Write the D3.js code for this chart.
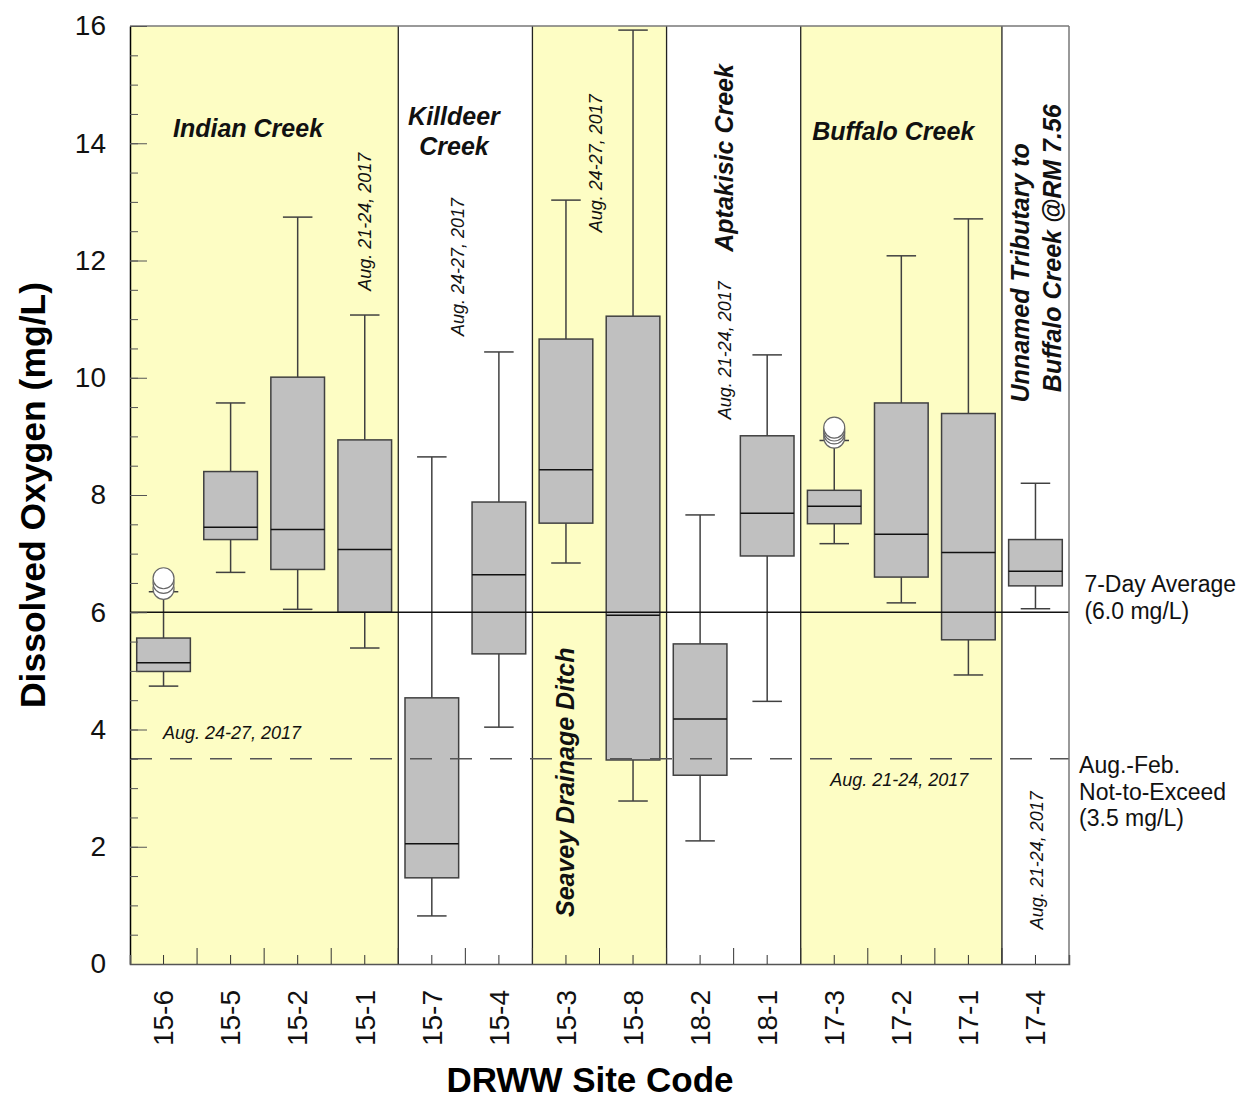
<!DOCTYPE html>
<html>
<head>
<meta charset="utf-8">
<script src="https://cdn.jsdelivr.net/npm/d3@7"></script>
<style>
  body { margin: 0; background: #fff; }
  text { font-family: Arial, "Liberation Sans", sans-serif; }
</style>
</head>
<body>
<div id="graphic"></div>
<script>
// site codes along the x axis
const sites = ["15-6","15-5","15-2","15-1","15-7","15-4","15-3","15-8","18-2","18-1","17-3","17-2","17-1","17-4"];

// box statistics (mg/L), one per site
const whiskerLow  = [4.74, 6.68, 6.05, 5.39, 0.82, 4.04, 6.84, 2.78, 2.10, 4.48, 7.17, 6.16, 4.93, 6.06];
const q1          = [4.99, 7.24, 6.73, 6.00, 1.47, 5.29, 7.52, 3.48, 3.22, 6.96, 7.51, 6.60, 5.53, 6.45];
const median      = [5.14, 7.45, 7.41, 7.07, 2.05, 6.64, 8.43, 5.95, 4.18, 7.69, 7.81, 7.33, 7.02, 6.70];
const q3          = [5.56, 8.40, 10.01, 8.94, 4.54, 7.88, 10.66, 11.05, 5.46, 9.01, 8.08, 9.57, 9.39, 7.24];
const whiskerHigh = [6.35, 9.57, 12.74, 11.07, 8.65, 10.44, 13.03, 15.93, 7.66, 10.39, 8.93, 12.08, 12.71, 8.20];

// outliers
const outlierSite  = ["15-6","15-6","15-6","17-3","17-3","17-3","17-3"];
const outlierValue = [6.40, 6.50, 6.58, 8.98, 9.05, 9.10, 9.15];

// stream groups (first and last site index)
const groupStart  = [0, 4, 6, 8, 10, 13];
const groupEnd    = [3, 5, 7, 9, 12, 13];
const groupShaded = [true, false, true, false, true, false];

// criteria lines
const avgCriterion = 6.0;
const nteCriterion = 3.5;

const yTicks = [0, 2, 4, 6, 8, 10, 12, 14, 16];
const yMinorTicks = d3.range(0, 16.01, 0.5);

const Chart = {
  el: "#graphic",
  outerWidth: 1243,
  outerHeight: 1101,
  margin: { left: 130, right: 174, top: 26, bottom: 137 },
  shade: "#fdfdc4",
  boxFill: "#c0c0c0",
  boxStroke: "#404040",
  parameters(){
    this.width = this.outerWidth - this.margin.left - this.margin.right;
    this.height = this.outerHeight - this.margin.top - this.margin.bottom;
  },
  createScales(){
    this.xScale = d3.scaleBand()
      .domain(sites)
      .range([0, this.width])
      .padding(0);
    this.bw = this.xScale.bandwidth();
    this.yScale = d3.scaleLinear()
      .domain([0, 16])
      .range([this.height, 0]);
  },
  // fractional category position -> px
  pos(i){ return i * this.bw; },
  drawPlot(){
    document.querySelector(this.el).innerHTML = "";
    this.svg = d3.select(this.el)
      .append("svg")
      .attr("width", this.outerWidth)
      .attr("height", this.outerHeight);
    this.plot = this.svg.append("g")
      .attr("transform", `translate(${this.margin.left}, ${this.margin.top})`);
  },
  drawGroups(){
    const that = this;
    const idx = d3.range(groupStart.length);
    this.plot.selectAll("rect.group")
      .data(idx.filter(i => groupShaded[i]))
      .enter().append("rect")
        .attr("class", "group")
        .attr("x", i => that.xScale(sites[groupStart[i]]))
        .attr("width", i => that.xScale(sites[groupEnd[i]]) + that.bw - that.xScale(sites[groupStart[i]]))
        .attr("y", 0)
        .attr("height", this.height)
        .attr("fill", this.shade);

    // separators between groups
    this.plot.selectAll("line.sep")
      .data(idx.slice(1))
      .enter().append("line")
        .attr("class", "sep")
        .attr("x1", i => that.xScale(sites[groupStart[i]]))
        .attr("x2", i => that.xScale(sites[groupStart[i]]))
        .attr("y1", 0)
        .attr("y2", this.height)
        .attr("stroke", "#222")
        .attr("stroke-width", 1.3);
  },
  drawAxes(){
    const that = this;
    // frame
    this.plot.append("line")
      .attr("x1", 0).attr("x2", this.width).attr("y1", 0).attr("y2", 0)
      .attr("stroke", "#777").attr("stroke-width", 1.5);
    this.plot.append("line")
      .attr("x1", this.width).attr("x2", this.width).attr("y1", 0).attr("y2", this.height)
      .attr("stroke", "#777").attr("stroke-width", 1.5);

    // y labels
    const yAxis = d3.axisLeft(this.yScale)
      .tickValues(yTicks)
      .tickSize(0)
      .tickPadding(24)
      .tickFormat(d3.format("d"));
    const gy = this.plot.append("g").attr("class", "axis yaxis").call(yAxis);
    gy.select(".domain").attr("stroke", "#000").attr("stroke-width", 1.5);
    gy.selectAll("text").attr("font-size", 28).attr("fill", "#111")
      .attr("font-family", "Arial, 'Liberation Sans', sans-serif");

    // inward ticks
    this.plot.append("g")
      .call(d3.axisRight(this.yScale).tickValues(yMinorTicks).tickSize(8).tickFormat(""))
      .call(g => g.select(".domain").remove())
      .selectAll("line").attr("stroke", "#555");
    this.plot.append("g")
      .call(d3.axisRight(this.yScale).tickValues(yTicks).tickSize(17).tickFormat(""))
      .call(g => g.select(".domain").remove())
      .selectAll("line").attr("stroke", "#555");

    // x axis
    const gx = this.plot.append("g")
      .attr("class", "axis xaxis")
      .attr("transform", `translate(0, ${this.height})`)
      .call(d3.axisBottom(this.xScale).tickSize(-9).tickPadding(0).tickFormat(""));
    gx.select(".domain").attr("stroke", "#555").attr("stroke-width", 1.5);
    gx.selectAll(".tick line").attr("stroke", "#333");

    // boundary ticks
    this.plot.append("g")
      .selectAll("line")
      .data(d3.range(1, sites.length))
      .enter().append("line")
        .attr("x1", i => that.pos(i)).attr("x2", i => that.pos(i))
        .attr("y1", this.height).attr("y2", this.height - 16)
        .attr("stroke", "#333");

    // rotated site labels
    this.plot.append("g")
      .selectAll("text")
      .data(sites)
      .enter().append("text")
        .attr("transform", d => `translate(${that.xScale(d) + that.bw / 2}, ${that.height + 26}) rotate(-90)`)
        .attr("text-anchor", "end")
        .attr("dy", "0.35em")
        .attr("font-size", 28)
        .attr("fill", "#111")
        .text(d => d);

    // axis titles
    this.svg.append("text")
      .attr("transform", `translate(45, ${this.margin.top + this.yScale(8.0)}) rotate(-90)`)
      .attr("text-anchor", "middle")
      .attr("font-size", 35.5)
      .attr("font-weight", "bold")
      .text("Dissolved Oxygen (mg/L)");
    this.svg.append("text")
      .attr("x", 590)
      .attr("y", 1092)
      .attr("text-anchor", "middle")
      .attr("font-size", 35)
      .attr("font-weight", "bold")
      .text("DRWW Site Code");
  },
  drawBoxes(){
    const that = this;
    const y = this.yScale;
    const boxW = this.bw * 0.8;
    const capW = this.bw * 0.44;
    const g = this.plot.append("g")
      .selectAll("g")
      .data(sites.map((s, i) => i))
      .enter().append("g")
        .attr("transform", i => `translate(${that.xScale(sites[i]) + that.bw / 2}, 0)`);

    g.append("line")
      .attr("x1", 0).attr("x2", 0)
      .attr("y1", i => y(whiskerHigh[i])).attr("y2", i => y(q3[i]))
      .attr("stroke", this.boxStroke).attr("stroke-width", 1.5);
    g.append("line")
      .attr("x1", 0).attr("x2", 0)
      .attr("y1", i => y(q1[i])).attr("y2", i => y(whiskerLow[i]))
      .attr("stroke", this.boxStroke).attr("stroke-width", 1.5);
    g.append("line")
      .attr("x1", -capW / 2).attr("x2", capW / 2)
      .attr("y1", i => y(whiskerHigh[i])).attr("y2", i => y(whiskerHigh[i]))
      .attr("stroke", this.boxStroke).attr("stroke-width", 1.5);
    g.append("line")
      .attr("x1", -capW / 2).attr("x2", capW / 2)
      .attr("y1", i => y(whiskerLow[i])).attr("y2", i => y(whiskerLow[i]))
      .attr("stroke", this.boxStroke).attr("stroke-width", 1.5);
    g.append("rect")
      .attr("x", -boxW / 2).attr("width", boxW)
      .attr("y", i => y(q3[i]))
      .attr("height", i => y(q1[i]) - y(q3[i]))
      .attr("fill", this.boxFill)
      .attr("stroke", this.boxStroke).attr("stroke-width", 1.5);
    g.append("line")
      .attr("x1", -boxW / 2).attr("x2", boxW / 2)
      .attr("y1", i => y(median[i])).attr("y2", i => y(median[i]))
      .attr("stroke", "#111").attr("stroke-width", 1.5);

    // outliers
    this.plot.append("g")
      .selectAll("circle")
      .data(outlierValue.map((v, i) => i))
      .enter().append("circle")
        .attr("cx", i => that.xScale(outlierSite[i]) + that.bw / 2)
        .attr("cy", i => y(outlierValue[i]))
        .attr("r", 10.5)
        .attr("fill", "#fff")
        .attr("stroke", "#666")
        .attr("stroke-width", 1.2);
  },
  drawCriteria(){
    const y = this.yScale;
    this.plot.append("line")
      .attr("x1", 0).attr("x2", this.width)
      .attr("y1", y(avgCriterion)).attr("y2", y(avgCriterion))
      .attr("stroke", "#111").attr("stroke-width", 1.3);
    this.plot.append("line")
      .attr("x1", 0).attr("x2", this.width)
      .attr("y1", y(nteCriterion)).attr("y2", y(nteCriterion))
      .attr("stroke", "#555").attr("stroke-width", 1.5)
      .attr("stroke-dasharray", "22,18");

    const side = [
      { t: "7-Day Average", i: 14.23, v: 6.35 },
      { t: "(6.0 mg/L)", i: 14.23, v: 5.88 },
      { t: "Aug.-Feb.", i: 14.15, v: 3.26 },
      { t: "Not-to-Exceed", i: 14.15, v: 2.80 },
      { t: "(3.5 mg/L)", i: 14.15, v: 2.35 }
    ];
    this.plot.append("g")
      .selectAll("text")
      .data(side)
      .enter().append("text")
        .attr("x", d => this.pos(d.i))
        .attr("y", d => y(d.v))
        .attr("font-size", 23)
        .attr("fill", "#111")
        .text(d => d.t);
  },
  drawLabels(){
    const y = this.yScale;
    // stream names: i = fractional site position, v = value (mg/L)
    const names = [
      { t: "Indian Creek", i: 1.76, v: 14.11, r: false },
      { t: "Killdeer", i: 4.83, v: 14.31, r: false },
      { t: "Creek", i: 4.83, v: 13.80, r: false },
      { t: "Buffalo Creek", i: 11.38, v: 14.06, r: false },
      { t: "Seavey Drainage Ditch", i: 6.49, v: 3.10, r: true },
      { t: "Aptakisic Creek", i: 8.86, v: 13.75, r: true },
      { t: "Unnamed Tributary to", i: 13.27, v: 11.79, r: true },
      { t: "Buffalo Creek @RM 7.56", i: 13.75, v: 12.21, r: true }
    ];
    const dates = [
      { t: "Aug. 21-24, 2017", i: 3.50, v: 12.66, r: true },
      { t: "Aug. 24-27, 2017", i: 4.89, v: 11.89, r: true },
      { t: "Aug. 24-27, 2017", i: 6.95, v: 13.66, r: true },
      { t: "Aug. 21-24, 2017", i: 8.86, v: 10.47, r: true },
      { t: "Aug. 21-24, 2017", i: 13.52, v: 1.77, r: true },
      { t: "Aug. 24-27, 2017", i: 1.52, v: 3.84, r: false },
      { t: "Aug. 21-24, 2017", i: 11.47, v: 3.04, r: false }
    ];
    const place = d => d.r
      ? `translate(${this.pos(d.i)}, ${y(d.v)}) rotate(-90)`
      : `translate(${this.pos(d.i)}, ${y(d.v)})`;

    this.plot.append("g")
      .selectAll("text")
      .data(names)
      .enter().append("text")
        .attr("transform", place)
        .attr("text-anchor", "middle")
        .attr("dy", d => d.r ? "0.35em" : 0)
        .attr("font-size", 25)
        .attr("font-weight", "bold")
        .attr("font-style", "italic")
        .attr("fill", "#111")
        .text(d => d.t);

    this.plot.append("g")
      .selectAll("text")
      .data(dates)
      .enter().append("text")
        .attr("transform", place)
        .attr("text-anchor", "middle")
        .attr("dy", d => d.r ? "0.35em" : 0)
        .attr("font-size", 18)
        .attr("font-style", "italic")
        .attr("fill", "#111")
        .text(d => d.t);
  },
  draw(){
    this.parameters();
    this.createScales();
    this.drawPlot();
    this.drawGroups();
    this.drawBoxes();
    this.drawCriteria();
    this.drawAxes();
    this.drawLabels();
  }
};

Chart.draw();
</script>
</body>
</html>
